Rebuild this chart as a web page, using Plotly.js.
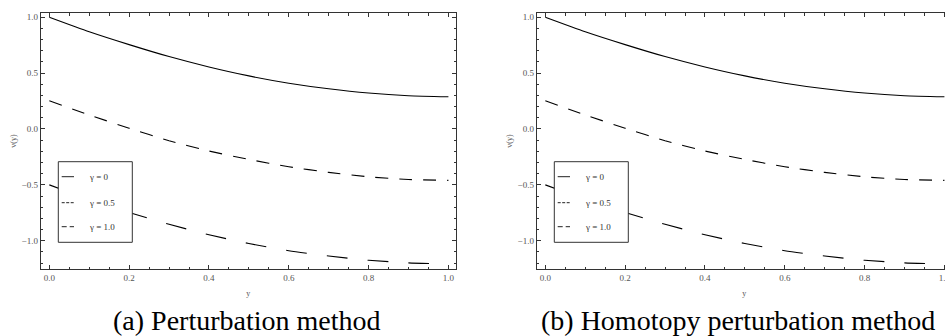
<!DOCTYPE html>
<html>
<head>
<meta charset="utf-8">
<script src="https://cdn.plot.ly/plotly-3.0.1.min.js"></script>
<style>
html,body{margin:0;padding:0;background:#fff;overflow:hidden;width:945px;height:336px;}
#chart{width:960px;height:336px;}
</style>
</head>
<body>
<div id="chart"></div>
<script>
// ---- data ----
const yPos = [0.0, 0.1, 0.2, 0.3, 0.4, 0.5, 0.6, 0.7, 0.8, 0.9, 1.0];
// (a) Perturbation method
const pmGamma0  = [1.000, 0.870, 0.755, 0.648, 0.555, 0.475, 0.410, 0.360, 0.322, 0.298, 0.288];
const pmGamma05 = [0.252, 0.125, 0.007, -0.105, -0.197, -0.272, -0.338, -0.388, -0.428, -0.452, -0.460];
const pmGamma10 = [-0.500, -0.630, -0.747, -0.853, -0.946, -1.025, -1.089, -1.137, -1.175, -1.198, -1.208];
// (b) Homotopy perturbation method
const hpmGamma0  = [1.000, 0.870, 0.755, 0.648, 0.555, 0.475, 0.410, 0.360, 0.322, 0.298, 0.288];
const hpmGamma05 = [0.252, 0.125, 0.007, -0.105, -0.197, -0.272, -0.338, -0.388, -0.428, -0.452, -0.460];
const hpmGamma10 = [-0.500, -0.630, -0.747, -0.853, -0.946, -1.025, -1.089, -1.137, -1.175, -1.198, -1.208];

const legendLabels = ["\u03b3 = 0", "\u03b3 = 0.5", "\u03b3 = 1.0"];
const captions = ["(a) Perturbation method", "(b) Homotopy perturbation method"];
const yTickVals = [-1.0, -0.5, 0.0, 0.5, 1.0];
const yTickText = ["\u22121.0", "\u22120.5", "0.0", "0.5", "1.0"];
const xTickVals = [0.0, 0.2, 0.4, 0.6, 0.8, 1.0];
const xTitle = "y";
const yTitle = "v(y)";

// ---- layout helpers ----
// The figure is slightly wider than the 945px window: the right frame of panel (b) is cut off, as in the reference.
const W = 960, H = 336;
const px = v => v / W;
const py = v => 1 - v / H;
const SERIF = "'Liberation Serif', 'Times New Roman', serif";

const curveStyles = [
  {color: "#000", width: 1.1, dash: "solid"},
  {color: "#000", width: 1.1, dash: "13px,11px"},
  {color: "#000", width: 1.1, dash: "21px,20px"}
];

function mk(xs, ys, style, xa, ya) {
  return {x: xs, y: ys, type: "scatter", mode: "lines", line: Object.assign({shape: "spline", smoothing: 0.6}, style),
          xaxis: xa, yaxis: ya, showlegend: false, hoverinfo: "skip"};
}

const traces = [
  mk(yPos, pmGamma0, curveStyles[0], "x", "y"),
  mk(yPos, pmGamma05, curveStyles[1], "x", "y"),
  mk(yPos, pmGamma10, curveStyles[2], "x", "y"),
  mk(yPos, hpmGamma0, curveStyles[0], "x2", "y2"),
  mk(yPos, hpmGamma05, curveStyles[1], "x2", "y2"),
  mk(yPos, hpmGamma10, curveStyles[2], "x2", "y2")
];

const tickFont = {family: SERIF, size: 9, color: "#555"};
function xAxis(domain, range, anchor) {
  return {
    domain: domain, range: range, anchor: anchor,
    showgrid: false, zeroline: false,
    showline: true, linecolor: "#333", linewidth: 1, mirror: "ticks",
    ticks: "inside", ticklen: 4, tickcolor: "#333", tickwidth: 1,
    tickvals: xTickVals, tickformat: ".1f",
    minor: {ticks: "inside", ticklen: 2.5, dtick: 0.05, tick0: 0, tickcolor: "#333", showgrid: false},
    tickfont: tickFont,
    title: {text: xTitle, font: {family: SERIF, size: 8, color: "#555"}, standoff: 8}
  };
}
function yAxis(domain, range, anchor) {
  return {
    domain: domain, range: range, anchor: anchor,
    showgrid: false, zeroline: false,
    showline: true, linecolor: "#333", linewidth: 1, mirror: "ticks",
    ticks: "inside", ticklen: 4, tickcolor: "#333", tickwidth: 1,
    tickvals: yTickVals, ticktext: yTickText,
    minor: {ticks: "inside", ticklen: 2.5, dtick: 0.1, tick0: 0, tickcolor: "#333", showgrid: false},
    tickfont: tickFont,
    title: {text: yTitle, font: {family: SERIF, size: 8, color: "#555"}, standoff: 3}
  };
}

const yDom = [py(269), py(13)];
const yRange = [-1.253, 1.038];
const xRange = [-0.0216, 1.019];
const layout = {
  width: W, height: H,
  margin: {l: 0, r: 0, t: 0, b: 0},
  paper_bgcolor: "#fff", plot_bgcolor: "#fff",
  showlegend: false,
  xaxis: xAxis([px(40.7), px(456)], xRange, "y"),
  yaxis: yAxis(yDom, yRange, "x"),
  xaxis2: xAxis([px(536.7), px(952)], xRange, "y2"),
  yaxis2: yAxis(yDom, yRange, "x2"),
  shapes: [],
  annotations: []
};

// legend boxes (drawn as layout decorations) and captions
const legendDash = ["solid", "3px,1.5px", "5px,3px"];
const legendRowY = [176.7, 202.7, 226.7];
[0, 496].forEach((off, k) => {
  layout.shapes.push({type: "rect", xref: "paper", yref: "paper",
    x0: px(58.3 + off), x1: px(132.3 + off), y0: py(242.3), y1: py(161.7),
    fillcolor: "#fff", line: {color: "#333", width: 1}, layer: "above"});
  legendLabels.forEach((lab, i) => {
    layout.shapes.push({type: "line", xref: "paper", yref: "paper",
      x0: px(61.7 + off), x1: px(74 + off), y0: py(legendRowY[i]), y1: py(legendRowY[i]),
      line: {color: "#222", width: 1, dash: legendDash[i]}, layer: "above"});
    layout.annotations.push({xref: "paper", yref: "paper", x: px(87 + off), y: py(legendRowY[i]),
      xanchor: "left", yanchor: "middle", showarrow: false, text: lab,
      font: {family: SERIF, size: 9, color: "#333"}});
  });
});
layout.annotations.push({xref: "paper", yref: "paper", x: px(246.5), y: py(320), xanchor: "center", yanchor: "middle",
  showarrow: false, text: captions[0], font: {family: SERIF, size: 28, color: "#000"}});
layout.annotations.push({xref: "paper", yref: "paper", x: px(738), y: py(320), xanchor: "center", yanchor: "middle",
  showarrow: false, text: captions[1], font: {family: SERIF, size: 28, color: "#000"}});

Plotly.newPlot("chart", traces, layout, {staticPlot: true, displayModeBar: false});
</script>
</body>
</html>
